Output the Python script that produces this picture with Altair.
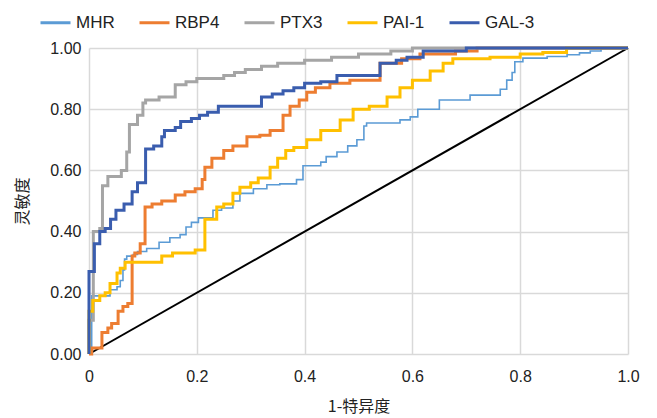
import altair as alt
import pandas as pd

series = ["MHR", "RBP4", "PTX3", "PAI-1", "GAL-3"]
colors = ["#5B9BD5", "#ED7D31", "#A5A5A5", "#FFC000", "#3A5DAE"]
widths = [1.6, 3.0, 3.0, 3.0, 3.0]

mhr_x = [0, 0.005, 0.039, 0.052, 0.058, 0.063, 0.066, 0.07, 0.082, 0.09, 0.107, 0.13, 0.15, 0.169, 0.18, 0.19, 0.203, 0.23, 0.246, 0.267, 0.28, 0.305, 0.33, 0.354, 0.385, 0.397, 0.43, 0.44, 0.46, 0.48, 0.497, 0.51, 0.515, 0.577, 0.596, 0.61, 0.65, 0.707, 0.763, 0.775, 0.785, 0.79, 0.805, 0.85, 0.887, 0.91, 0.93, 0.95, 1.0]
mhr_y = [0, 0.19, 0.21, 0.22, 0.24, 0.275, 0.31, 0.32, 0.325, 0.335, 0.345, 0.365, 0.38, 0.39, 0.415, 0.43, 0.445, 0.47, 0.477, 0.50, 0.525, 0.54, 0.553, 0.556, 0.57, 0.615, 0.627, 0.645, 0.66, 0.68, 0.70, 0.745, 0.755, 0.765, 0.775, 0.80, 0.83, 0.846, 0.865, 0.895, 0.92, 0.955, 0.967, 0.972, 0.978, 0.984, 0.99, 1.0, 1.0]

rbp4_x = [0, 0.005, 0.024, 0.035, 0.042, 0.054, 0.063, 0.072, 0.08, 0.085, 0.095, 0.104, 0.117, 0.135, 0.16, 0.178, 0.197, 0.21, 0.215, 0.228, 0.25, 0.267, 0.293, 0.317, 0.336, 0.36, 0.373, 0.39, 0.404, 0.42, 0.447, 0.484, 0.54, 0.58, 0.614, 0.68, 0.72, 1.0]
rbp4_y = [0, 0.02, 0.07, 0.085, 0.10, 0.14, 0.155, 0.165, 0.32, 0.33, 0.36, 0.48, 0.49, 0.50, 0.52, 0.53, 0.54, 0.57, 0.61, 0.64, 0.665, 0.68, 0.71, 0.715, 0.73, 0.78, 0.81, 0.83, 0.855, 0.87, 0.885, 0.895, 0.95, 0.965, 0.98, 0.99, 1.0, 1.0]

ptx3_x = [0, 0, 0.008, 0.02, 0.025, 0.035, 0.06, 0.07, 0.075, 0.09, 0.10, 0.105, 0.13, 0.16, 0.18, 0.20, 0.25, 0.27, 0.29, 0.32, 0.35, 0.40, 0.45, 0.50, 0.56, 0.60, 1.0]
ptx3_y = [0, 0.11, 0.40, 0.41, 0.55, 0.58, 0.60, 0.66, 0.75, 0.78, 0.82, 0.83, 0.84, 0.88, 0.89, 0.90, 0.91, 0.92, 0.93, 0.94, 0.95, 0.96, 0.97, 0.98, 0.99, 1.0, 1.0]

pai1_x = [0, 0, 0.007, 0.02, 0.03, 0.039, 0.052, 0.058, 0.067, 0.135, 0.155, 0.197, 0.215, 0.237, 0.25, 0.267, 0.28, 0.30, 0.314, 0.336, 0.35, 0.365, 0.38, 0.404, 0.43, 0.466, 0.49, 0.52, 0.553, 0.577, 0.60, 0.633, 0.657, 0.675, 0.744, 0.80, 0.842, 0.886, 1.0]
pai1_y = [0, 0.14, 0.175, 0.19, 0.20, 0.23, 0.265, 0.28, 0.30, 0.32, 0.33, 0.34, 0.44, 0.48, 0.49, 0.525, 0.545, 0.56, 0.575, 0.61, 0.64, 0.665, 0.675, 0.70, 0.73, 0.765, 0.80, 0.81, 0.84, 0.87, 0.895, 0.925, 0.95, 0.965, 0.97, 0.98, 0.985, 1.0, 1.0]

gal3_x = [0, 0, 0.01, 0.02, 0.03, 0.04, 0.05, 0.065, 0.08, 0.09, 0.105, 0.12, 0.135, 0.14, 0.16, 0.17, 0.19, 0.205, 0.22, 0.24, 0.32, 0.34, 0.36, 0.38, 0.40, 0.43, 0.46, 0.54, 0.57, 0.59, 0.62, 0.70, 1.0]
gal3_y = [0, 0.27, 0.36, 0.40, 0.41, 0.44, 0.47, 0.49, 0.53, 0.56, 0.67, 0.68, 0.71, 0.73, 0.74, 0.76, 0.77, 0.78, 0.79, 0.81, 0.84, 0.85, 0.86, 0.87, 0.885, 0.89, 0.91, 0.95, 0.96, 0.97, 0.99, 1.0, 1.0]

diag_x = [0, 1]
diag_y = [0, 1]

rows = []
for k, (name, xs, ys) in enumerate([("MHR", mhr_x, mhr_y), ("RBP4", rbp4_x, rbp4_y), ("PTX3", ptx3_x, ptx3_y),
                                    ("PAI-1", pai1_x, pai1_y), ("GAL-3", gal3_x, gal3_y)]):
    for i, (a, b) in enumerate(zip(xs, ys)):
        rows.append({"series": name, "fpr": a, "tpr": b, "idx": i, "w": widths[k]})
df = pd.DataFrame(rows)
ddf = pd.DataFrame({"fpr": diag_x, "tpr": diag_y})

xscale = alt.Scale(domain=[0, 1], nice=False, zero=False)
yscale = alt.Scale(domain=[0, 1], nice=False, zero=False)

diag = alt.Chart(ddf).mark_line(color="black", strokeWidth=2).encode(
    x=alt.X("fpr:Q", scale=xscale),
    y=alt.Y("tpr:Q", scale=yscale),
)

curves = alt.Chart(df).mark_line(interpolate="step-after").encode(
    x=alt.X("fpr:Q", scale=xscale,
            axis=alt.Axis(title="1-特异度", values=[0, 0.2, 0.4, 0.6, 0.8, 1.0], labelFlush=False,
                          labelPadding=14, titlePadding=14,
                          labelExpr="datum.value == 0 ? '0' : format(datum.value, '.1f')")),
    y=alt.Y("tpr:Q", scale=yscale,
            axis=alt.Axis(title="灵敏度", values=[i / 10 for i in range(11)], format=".2f",
                          labelFlush=False, labelPadding=8, titlePadding=19)),
    color=alt.Color("series:N", sort=series, title=None,
                    scale=alt.Scale(domain=series, range=colors),
                    legend=alt.Legend(orient="none", direction="horizontal", legendX=-50, legendY=-42,
                                      symbolType="stroke", symbolSize=900, symbolStrokeWidth=3,
                                      labelFont="Liberation Sans", labelFontSize=17, labelColor="#222",
                                      labelOffset=4, columnPadding=18)),
    strokeWidth=alt.StrokeWidth("w:Q", scale=None, legend=None),
    order="idx:Q",
)

chart = alt.layer(diag, curves).properties(
    width=539, height=306,
    autosize=alt.AutoSizeParams(type="none"),
    padding={"left": 81, "top": 40, "right": 20, "bottom": 62},
).configure_view(stroke=None).configure_axis(
    grid=True, gridColor="#D9D9D9", gridWidth=1.5,
    domain=False, ticks=False,
    labelFont="Liberation Sans", labelFontSize=16, labelColor="#222",
    titleFont="Noto Sans CJK SC", titleFontSize=16, titleFontWeight="normal", titleColor="#222",
)

chart.save("out.html", embed_options={"renderer": "svg", "actions": False})
